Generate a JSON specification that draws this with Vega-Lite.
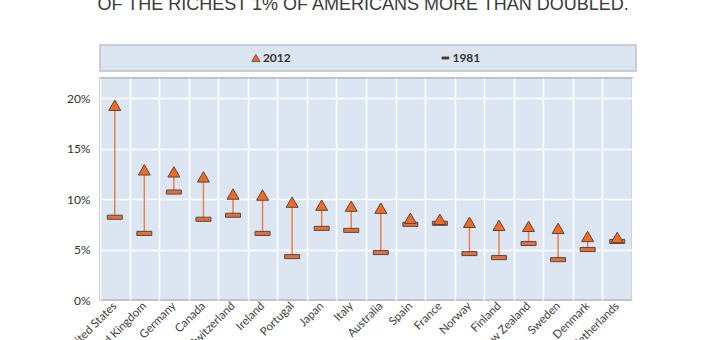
{
  "$schema": "https://vega.github.io/schema/vega-lite/v6.json",
  "background": "white",
  "padding": {"left": 61, "top": -4, "right": 0, "bottom": 0},
  "title": {
    "text": "OF THE RICHEST 1% OF AMERICANS MORE THAN DOUBLED.",
    "font": "Liberation Sans",
    "fontSize": 18,
    "fontWeight": "normal",
    "color": "#3a3a3a",
    "anchor": "middle",
    "dx": 14,
    "offset": 30
  },
  "datasets": {
    "legend": [
      {"series": "2012"},
      {"series": "1981"}
    ],
    "shares": [
      {"country": "United States", "y2012": 0.193, "y1981": 0.082},
      {"country": "United Kingdom", "y2012": 0.129, "y1981": 0.066},
      {"country": "Germany", "y2012": 0.127, "y1981": 0.107},
      {"country": "Canada", "y2012": 0.122, "y1981": 0.080},
      {"country": "Switzerland", "y2012": 0.105, "y1981": 0.084},
      {"country": "Ireland", "y2012": 0.104, "y1981": 0.066},
      {"country": "Portugal", "y2012": 0.097, "y1981": 0.043},
      {"country": "Japan", "y2012": 0.094, "y1981": 0.071},
      {"country": "Italy", "y2012": 0.093, "y1981": 0.069},
      {"country": "Australia", "y2012": 0.091, "y1981": 0.047},
      {"country": "Spain", "y2012": 0.081, "y1981": 0.075},
      {"country": "France", "y2012": 0.080, "y1981": 0.076},
      {"country": "Norway", "y2012": 0.077, "y1981": 0.046},
      {"country": "Finland", "y2012": 0.074, "y1981": 0.042},
      {"country": "New Zealand", "y2012": 0.073, "y1981": 0.056},
      {"country": "Sweden", "y2012": 0.071, "y1981": 0.040},
      {"country": "Denmark", "y2012": 0.063, "y1981": 0.050},
      {"country": "Netherlands", "y2012": 0.062, "y1981": 0.058}
    ]
  },
  "spacing": 5,
  "resolve": {"scale": {"x": "independent", "y": "independent"}},
  "vconcat": [
    {
      "width": 536,
      "height": 26,
      "data": {"name": "legend"},
      "view": {"fill": "#dce6f1", "stroke": "#bcc2ca", "strokeWidth": 1.5},
      "encoding": {
        "x": {
          "field": "series",
          "type": "nominal",
          "sort": ["2012", "1981"],
          "scale": {"type": "point", "padding": 0.914, "align": 0.45},
          "axis": null
        }
      },
      "layer": [
        {
          "mark": {"type": "point", "filled": true, "opacity": 1, "stroke": "#5a4638", "strokeWidth": 0.8},
          "encoding": {
            "shape": {"field": "series", "type": "nominal", "scale": {"domain": ["2012", "1981"], "range": ["triangle-up", "M-1,-0.3H1V0.3H-1Z"]}, "legend": null},
            "color": {"field": "series", "type": "nominal", "scale": {"domain": ["2012", "1981"], "range": ["#ee6a2a", "#333333"]}, "legend": null},
            "size": {"field": "series", "type": "ordinal", "scale": {"domain": ["2012", "1981"], "range": [70, 49]}, "legend": null}
          }
        },
        {
          "mark": {"type": "text", "align": "left", "dx": 7, "font": "Lato", "fontSize": 12, "fontWeight": "bold", "color": "#333333"},
          "encoding": {"text": {"field": "series"}}
        }
      ]
    },
    {
      "width": 532,
      "height": 222,
      "data": {"name": "shares"},
      "view": {"fill": "#dce6f2", "stroke": "#bfc4ca", "strokeWidth": 2},
      "encoding": {
        "x": {
          "field": "country",
          "type": "nominal",
          "sort": null,
          "scale": {"paddingInner": 0, "paddingOuter": 0},
          "axis": {
            "title": null,
            "tickBand": "extent",
            "labelAngle": -45,
            "labelAlign": "right",
            "labelBaseline": "middle",
            "labelPadding": 4,
            "domain": false,
            "ticks": false,
            "grid": true,
            "gridColor": "white",
            "gridWidth": 1.5,
            "labelFont": "Lato",
            "labelFontSize": 11.5,
            "labelColor": "#404040"
          }
        }
      },
      "layer": [
        {
          "mark": {"type": "rule", "color": "#e8804f", "strokeWidth": 1.5},
          "encoding": {
            "y": {
              "field": "y1981",
              "type": "quantitative",
              "scale": {"domain": [0, 0.22], "nice": false},
              "axis": {
                "title": null,
                "values": [0, 0.05, 0.1, 0.15, 0.2],
                "format": ".0%",
                "domain": false,
                "ticks": false,
                "labelPadding": 10,
                "gridColor": {"condition": {"test": "datum.value === 0", "value": "transparent"}, "value": "white"},
                "gridWidth": 1.5,
                "labelFont": "Lato",
                "labelFontSize": 12,
                "labelColor": "#333333"
              }
            },
            "y2": {"field": "y2012"}
          }
        },
        {
          "mark": {"type": "point", "shape": "M-1,-0.27H1V0.27H-1Z", "size": 225, "filled": true, "opacity": 1, "color": "#e07040", "stroke": "#5a4638", "strokeWidth": 1},
          "encoding": {"y": {"field": "y1981", "type": "quantitative"}}
        },
        {
          "mark": {"type": "point", "shape": "triangle-up", "size": 144, "filled": true, "opacity": 1, "color": "#f26a25", "stroke": "#5a4638", "strokeWidth": 1},
          "encoding": {"y": {"field": "y2012", "type": "quantitative"}}
        }
      ]
    }
  ]
}
